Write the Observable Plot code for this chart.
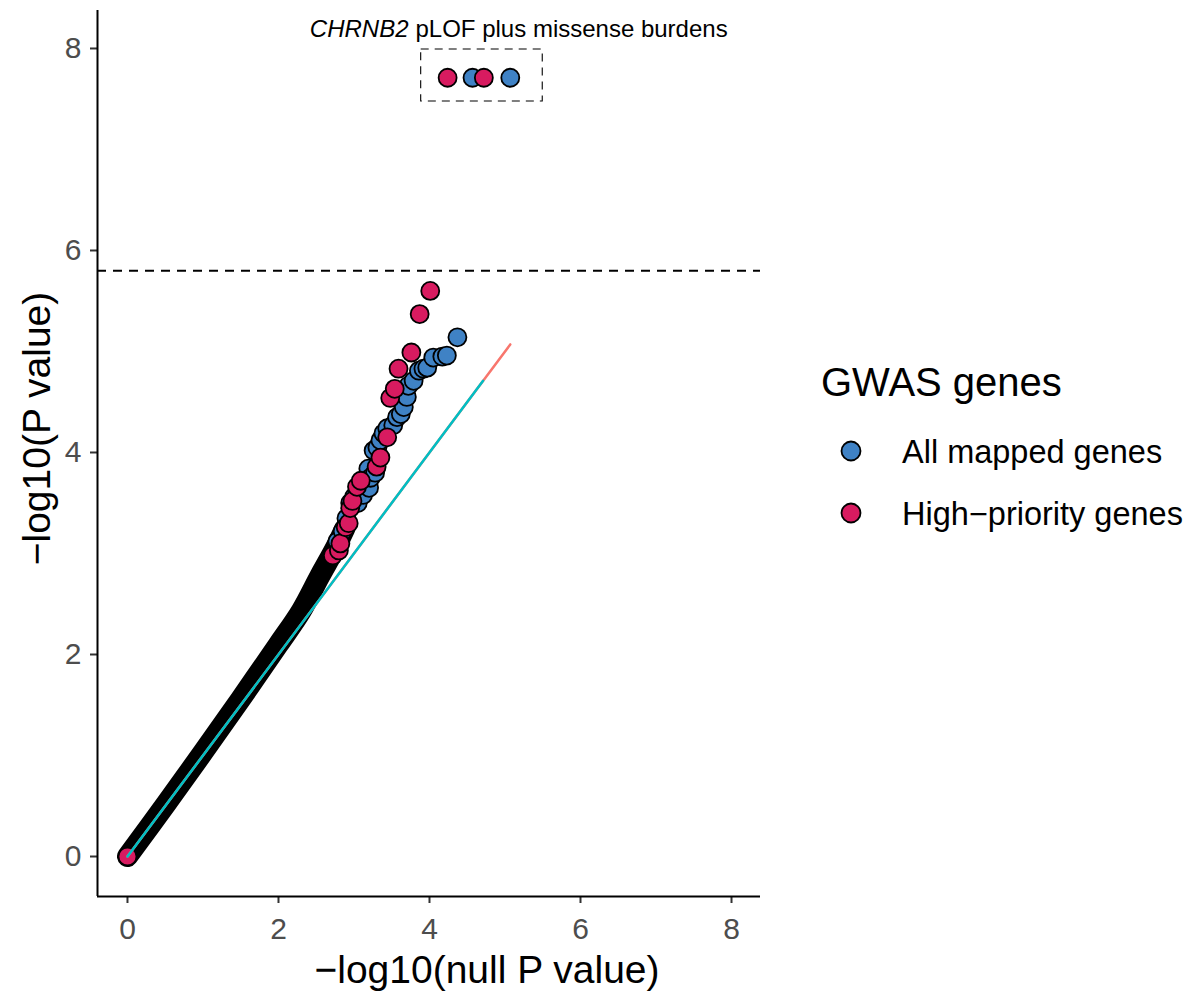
<!DOCTYPE html>
<html>
<head>
<meta charset="utf-8">
<script src="https://cdn.jsdelivr.net/npm/d3@7"></script>
<script src="https://cdn.jsdelivr.net/npm/@observablehq/plot@0.6"></script>
<style>
  body { margin: 0; background: #ffffff; }
  #wrap { position: relative; width: 1193px; height: 994px; font-family: "Liberation Sans", Arial, Helvetica, sans-serif; }
  #legend { position: absolute; left: 0; top: 0; }
</style>
</head>
<body>
<div id="wrap"></div>
<script>
// ---------------- data ----------------
const groups = ["All mapped genes", "High\u2212priority genes"];
const groupColors = ["#3F82C5", "#D81B60"];
const expectedLineColors = ["#F8766D", "#00BFC4"];
const legendTitle = "GWAS genes";
const xTicks = [0, 2, 4, 6, 8];
const yTicks = [0, 2, 4, 6, 8];
const xTitle = "\u2212log10(null P value)";
const yTitle = "\u2212log10(P value)";

// dense, fully overlapping bulk of genes (drawn as one black band of overlapping outlines)
const bandNull = [0, 0.5, 1.0, 1.5, 2.0, 2.3, 2.55, 2.75, 2.88];
const bandObs  = [0, 0.51, 1.03, 1.56, 2.1, 2.43, 2.78, 3.05, 3.25];

// All mapped genes: upper tail
const allNull = [2.78, 2.85, 2.9, 2.95, 3.0, 3.05, 3.05, 3.1, 3.12, 3.15, 3.2, 3.19, 3.22, 3.28, 3.26, 3.31, 3.35, 3.39, 3.44, 3.52, 3.57, 3.62, 3.66, 3.70, 3.72, 3.79, 3.86, 3.92, 3.97, 4.05, 4.17, 4.23, 4.37];
const allObs  = [3.12, 3.22, 3.35, 3.5, 3.56, 3.5, 3.62, 3.68, 3.58, 3.74, 3.65, 3.84, 3.75, 3.8, 4.02, 4.05, 4.12, 4.19, 4.24, 4.27, 4.35, 4.38, 4.45, 4.55, 4.66, 4.71, 4.81, 4.83, 4.84, 4.94, 4.95, 4.96, 5.14];

// High-priority genes: upper tail
const hpNull = [0, 2.72, 2.80, 2.82, 2.89, 2.93, 2.95, 2.98, 3.04, 3.09, 3.30, 3.35, 3.44, 3.48, 3.54, 3.59, 3.76, 3.87, 4.01];
const hpObs  = [0, 2.98, 3.03, 3.10, 3.26, 3.30, 3.45, 3.52, 3.66, 3.72, 3.86, 3.95, 4.15, 4.54, 4.63, 4.83, 4.99, 5.37, 5.60];

// CHRNB2 pLOF plus missense burdens
const burdenAllNull = [4.57, 5.07];
const burdenAllObs  = [7.71, 7.71];
const burdenHpNull  = [4.24, 4.72];
const burdenHpObs   = [7.71, 7.71];

// expected (null) lines: end at each group's max null value
const expectedMax = [5.07, 4.71];
const threshold = 5.8;
const boxNull = [3.89, 5.50];
const boxObs  = [7.475, 7.99];
const annotItalic = "CHRNB2";
const annotRest = "pLOF plus missense burdens";
const annotNull = 3.722;
const annotObs = 8.188;

// ---------------- chart ----------------
const rows = (xs, ys) => xs.map((x, i) => ({x, y: ys[i]}));
const FONT = "'Liberation Sans', Arial, Helvetica, sans-serif";
const xDomain = [-0.397, 8.384];
const yDomain = [-0.396, 8.376];

const plot = Plot.plot({
  width: 780,
  height: 994,
  marginLeft: 97,
  marginRight: 20,
  marginTop: 10,
  marginBottom: 98,
  style: {fontFamily: FONT, background: "#ffffff", overflow: "visible"},
  x: {domain: xDomain},
  y: {domain: yDomain},
  marks: [
    Plot.axisX({ticks: xTicks, tickSize: 7, tickPadding: 14, fontSize: 30, stroke: "#333333", fill: "#4d4d4d", strokeWidth: 2, label: null}),
    Plot.axisY({ticks: yTicks, tickSize: 7, tickPadding: 9, fontSize: 30, stroke: "#333333", fill: "#4d4d4d", strokeWidth: 2, label: null}),
    Plot.ruleX([xDomain[0]], {stroke: "#000", strokeWidth: 2}),
    Plot.ruleY([yDomain[0]], {stroke: "#000", strokeWidth: 2}),
    Plot.ruleY([threshold], {stroke: "#000", strokeWidth: 2, strokeDasharray: "9,7"}),
    // dense band
    Plot.line(rows(bandNull, bandObs), {x: "x", y: "y", stroke: "#000", strokeWidth: 21, strokeLinecap: "round", strokeLinejoin: "round", curve: "catmull-rom"}),
    // tail points
    Plot.dot(rows(allNull, allObs), {x: "x", y: "y", r: 9, fill: groupColors[0], stroke: "#000", strokeWidth: 1.8}),
    Plot.dot(rows(hpNull, hpObs), {x: "x", y: "y", r: 9, fill: groupColors[1], stroke: "#000", strokeWidth: 1.8}),
    // expected lines
    Plot.line(rows([0, expectedMax[0]], [0, expectedMax[0]]), {x: "x", y: "y", stroke: expectedLineColors[0], strokeWidth: 2.5}),
    Plot.line(rows([0, expectedMax[1]], [0, expectedMax[1]]), {x: "x", y: "y", stroke: expectedLineColors[1], strokeWidth: 2.5}),
    // burden box
    Plot.rect([{}], {x1: boxNull[0], x2: boxNull[1], y1: boxObs[0], y2: boxObs[1], fill: "none", stroke: "#000", strokeWidth: 1.1, strokeDasharray: "8,6"}),
    Plot.dot(rows(burdenAllNull, burdenAllObs), {x: "x", y: "y", r: 9, fill: groupColors[0], stroke: "#000", strokeWidth: 1.8}),
    Plot.dot(rows(burdenHpNull, burdenHpObs), {x: "x", y: "y", r: 9, fill: groupColors[1], stroke: "#000", strokeWidth: 1.8}),
    Plot.text([annotItalic], {x: annotNull, y: annotObs, text: d => d, textAnchor: "end", fontStyle: "italic", fontSize: 24, fill: "#000"}),
    Plot.text([annotRest], {x: annotNull, y: annotObs, text: d => d, textAnchor: "start", dx: 7, fontSize: 24, fill: "#000"}),
    // axis titles
    Plot.text([xTitle], {frameAnchor: "bottom", text: d => d, textAnchor: "middle", lineAnchor: "middle", dy: 74, dx: 58, fontSize: 39, fill: "#000"}),
    Plot.text([yTitle], {frameAnchor: "left", text: d => d, textAnchor: "middle", lineAnchor: "middle", rotate: -90, dx: -60, dy: -25, fontSize: 39, fill: "#000"})
  ]
});
const wrap = document.getElementById("wrap");
wrap.appendChild(plot);

// legend (to the right of the panel)
const lg = d3.select(wrap).append("svg").attr("id", "legend")
  .attr("width", 1193).attr("height", 994).style("pointer-events", "none")
  .style("font-family", FONT);
lg.append("text").attr("x", 821).attr("y", 396).attr("font-size", 40).attr("fill", "#000").text(legendTitle);
groups.forEach((g, i) => {
  const cy = 451 + i * 62;
  lg.append("circle").attr("cx", 851).attr("cy", cy).attr("r", 9.5).attr("fill", groupColors[i]).attr("stroke", "#000").attr("stroke-width", 1.8);
  lg.append("text").attr("x", 902).attr("y", cy + 12).attr("font-size", 32.5).attr("fill", "#000").text(g);
});
</script>
</body>
</html>
